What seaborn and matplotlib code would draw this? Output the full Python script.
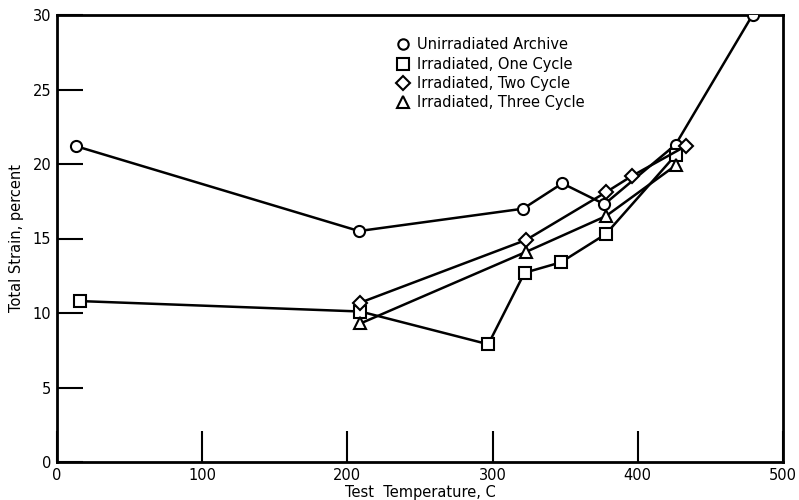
import pandas as pd
import numpy as np
import matplotlib
matplotlib.use('Agg')
import matplotlib.pyplot as plt
import seaborn as sns
from matplotlib.lines import Line2D

# Data
series_names = ['Unirradiated Archive', 'Irradiated, One Cycle',
                'Irradiated, Two Cycle', 'Irradiated, Three Cycle']

unirr_temp = [13, 208, 321, 348, 377, 426, 479]
unirr_strain = [21.2, 15.5, 17.0, 18.7, 17.3, 21.3, 30.0]

one_temp = [16, 209, 297, 322, 347, 378, 426]
one_strain = [10.8, 10.1, 7.9, 12.7, 13.4, 15.3, 20.6]

two_temp = [209, 323, 378, 396, 433]
two_strain = [10.7, 14.9, 18.1, 19.2, 21.2]

three_temp = [209, 323, 378, 426]
three_strain = [9.3, 14.1, 16.5, 19.9]

x_ticks = [0, 100, 200, 300, 400, 500]
y_ticks = [0, 5, 10, 15, 20, 25, 30]

# Build long table for seaborn
frames = []
for name, t, s in zip(series_names,
                      [unirr_temp, one_temp, two_temp, three_temp],
                      [unirr_strain, one_strain, two_strain, three_strain]):
    frames.append(pd.DataFrame({'temp': t, 'strain': s, 'series': name}))
df = pd.concat(frames, ignore_index=True)

sns.set_style('white')
plt.rcParams['font.family'] = ['DejaVu Sans']
plt.rcParams['text.color'] = 'black'
plt.rcParams['axes.labelcolor'] = 'black'
plt.rcParams['xtick.color'] = 'black'
plt.rcParams['ytick.color'] = 'black'

fig = plt.figure(figsize=(7.99, 5.0), dpi=100)
ax = fig.add_axes([0.0713, 0.076, 0.9087, 0.894])

marker_map = dict(zip(series_names, ['o', 's', 'D', '^']))
marker_size = dict(zip(series_names, [8, 8.5, 7.5, 9]))

for name in series_names:
    sub = df[df.series == name]
    sns.lineplot(data=sub, x='temp', y='strain', ax=ax, color='black',
                 linewidth=1.8, sort=False, estimator=None, legend=False,
                 marker=marker_map[name], markersize=marker_size[name],
                 markerfacecolor='white', markeredgecolor='black',
                 markeredgewidth=1.5, zorder=3)

ax.set_xlim(0, 500)
ax.set_ylim(0, 30)
ax.set_xticks(x_ticks)
ax.set_yticks(y_ticks)
ax.set_xticklabels([str(v) for v in x_ticks], fontsize=10.5)
ax.set_yticklabels([str(v) for v in y_ticks], fontsize=10.5)
ax.tick_params(axis='x', bottom=True, direction='in', length=22, width=1.5, pad=4)
ax.tick_params(axis='y', left=True, direction='in', length=19, width=1.5, pad=4)
ax.set_xlabel('Test  Temperature, C', fontsize=10.5, labelpad=2)
ax.set_ylabel('Total Strain, percent', fontsize=10.5, labelpad=6)

for sp in ax.spines.values():
    sp.set_linewidth(2)
    sp.set_color('black')

handles = [Line2D([], [], linestyle='none', marker=marker_map[n],
                  markersize=marker_size[n] - 0.5, markerfacecolor='white',
                  markeredgecolor='black', markeredgewidth=1.5)
           for n in series_names]
ax.legend(handles, series_names, loc='upper left',
          bbox_to_anchor=(0.458, 0.963), frameon=False, fontsize=10.5,
          handletextpad=0.5, labelspacing=0.3, handlelength=1.0,
          borderaxespad=0)

fig.savefig('out.png', dpi=100)
